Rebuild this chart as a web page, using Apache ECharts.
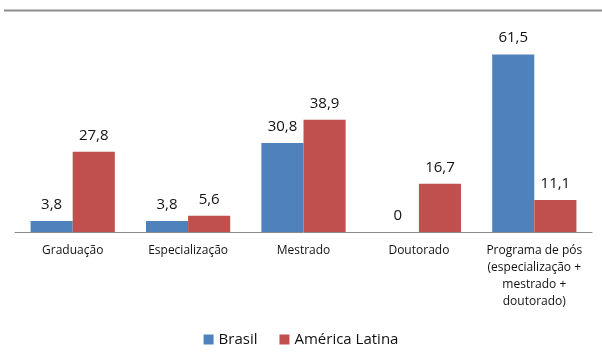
<!DOCTYPE html>
<html><head><meta charset="utf-8">
<script src="https://cdn.jsdelivr.net/npm/echarts@6/dist/echarts.min.js"></script>
<style>html,body{margin:0;padding:0;background:#fff}#c{width:602px;height:360px}</style>
</head><body><div id="c"></div>
<script>
var categories = ['Graduação', 'Especialização', 'Mestrado', 'Doutorado', 'Programa de pós\n(especialização +\nmestrado +\ndoutorado)'];
var brasil = [3.8, 3.8, 30.8, 0, 61.5];
var americaLatina = [27.8, 5.6, 38.9, 16.7, 11.1];
var seriesNames = ['Brasil', 'América Latina'];

var chart = echarts.init(document.getElementById('c'));
var fmt = function (p) { return String(p.value).replace('.', ','); };
var font = '"Open Sans", "Noto Sans", sans-serif';
chart.setOption({
  animation: false,
  textStyle: { fontFamily: font },
  graphic: [{ type: 'line', shape: { x1: 4, y1: 10.5, x2: 602, y2: 10.5 }, style: { stroke: '#8c8c8c', lineWidth: 2 } }],
  legend: {
    data: seriesNames, bottom: 8, left: 'center', itemWidth: 10, itemHeight: 10, itemGap: 22,
    icon: 'rect', textStyle: { fontSize: 15, color: '#111', fontFamily: font }
  },
  grid: { left: 15, right: 10, top: 30, bottom: 128, containLabel: false },
  xAxis: {
    type: 'category', data: categories,
    axisLine: { lineStyle: { color: '#8c8c8c', width: 1 } },
    axisTick: { show: false },
    axisLabel: { fontSize: 12, color: '#111', lineHeight: 17, margin: 10, interval: 0, fontFamily: font }
  },
  yAxis: { type: 'value', min: 0, max: 70, show: false, splitLine: { show: false } },
  series: [
    { name: seriesNames[0], type: 'bar', data: brasil, barGap: '0%', barCategoryGap: '27%',
      itemStyle: { color: '#4F81BD' },
      label: { show: true, position: 'top', formatter: fmt, fontSize: 15, color: '#111', distance: 9, fontFamily: font } },
    { name: seriesNames[1], type: 'bar', data: americaLatina,
      itemStyle: { color: '#C0504D' },
      label: { show: true, position: 'top', formatter: fmt, fontSize: 15, color: '#111', distance: 9, fontFamily: font } }
  ]
});
</script></body></html>
